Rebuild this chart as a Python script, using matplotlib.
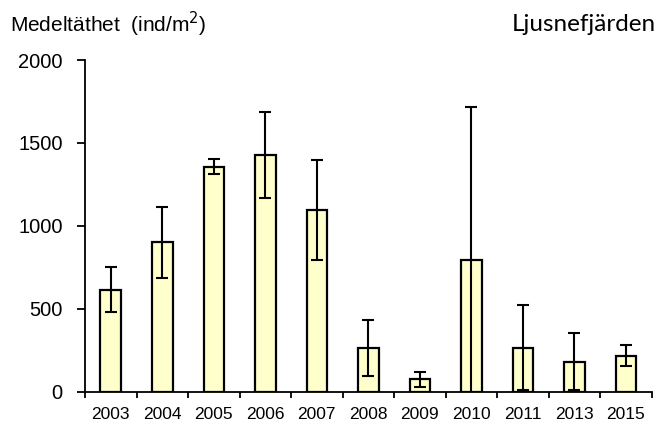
import matplotlib
matplotlib.use("Agg")
import matplotlib.pyplot as plt
import numpy as np

years = ["2003", "2004", "2005", "2006", "2007", "2008", "2009", "2010", "2011", "2013", "2015"]
density = [616, 901, 1357, 1429, 1096, 265, 75, 794, 265, 181, 217]
error = [138, 215, 45, 260, 300, 168, 45, 922, 255, 170, 65]
y_ticks = [0, 500, 1000, 1500, 2000]

plt.rcParams["font.family"] = ["Liberation Sans", "DejaVu Sans"]

fig = plt.figure(figsize=(6.59, 4.23), dpi=100)
ax = fig.add_axes([0.129, 0.074, 0.860, 0.784])

x = np.arange(len(years))
ax.bar(x, density, width=0.4, color="#FFFFCC", edgecolor="black", linewidth=1.6, zorder=2)
ax.errorbar(x, density, yerr=error, fmt="none", ecolor="black", elinewidth=1.5,
            capsize=4.3, capthick=1.5, zorder=3)

ax.set_ylim(0, 2000)
ax.set_xlim(-0.5, len(years) - 0.5)
ax.set_yticks(y_ticks)
ax.set_yticklabels([str(v) for v in y_ticks], fontsize=14.5)
ax.set_xticks(x)
ax.set_xticklabels(years, fontsize=12.5)
ax.set_xticks(np.arange(-0.5, len(years)), minor=True)

ax.tick_params(axis="x", which="major", length=0, pad=11)
ax.tick_params(axis="x", which="minor", length=4.5, width=1.3, direction="out")
ax.tick_params(axis="y", length=6, width=1.3, direction="out", pad=10)

for side in ("top", "right"):
    ax.spines[side].set_visible(False)
for side in ("left", "bottom"):
    ax.spines[side].set_linewidth(1.3)

fig.text(0.015, 0.943, "Medeltäthet  (ind/m$^2$)", fontsize=15, ha="left", va="center")
fig.text(0.995, 0.943, "Ljusnefjärden", fontsize=17.5, ha="right", va="center",
         family=["Lato", "DejaVu Sans"])

fig.savefig("out.png", dpi=100)
